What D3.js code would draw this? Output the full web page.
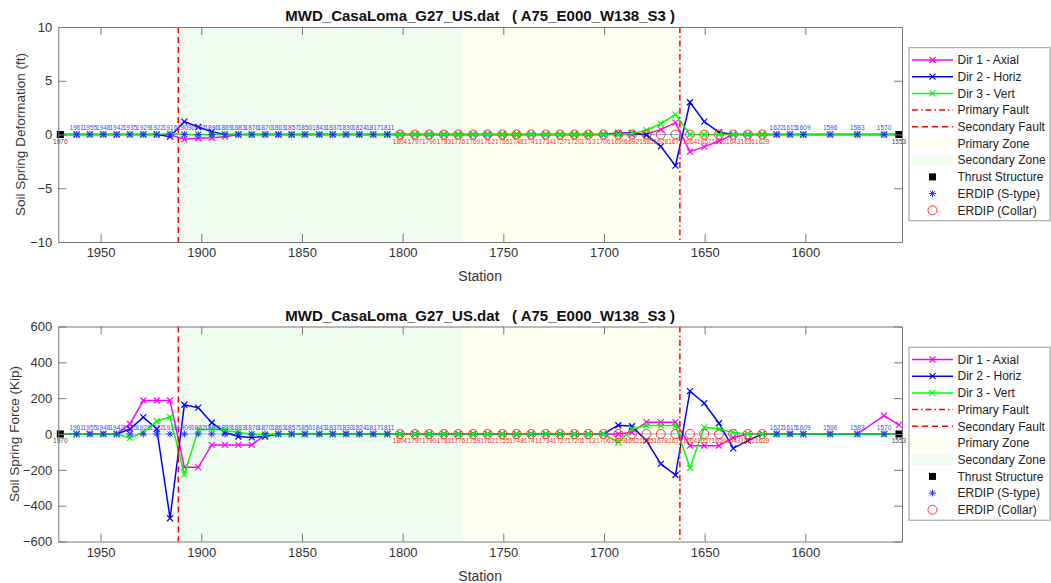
<!DOCTYPE html>
<html>
<head>
<meta charset="utf-8">
<script src="https://cdn.jsdelivr.net/npm/d3@7"></script>
<style>
  body { margin: 0; background: #fff; }
  svg text { font-family: "Liberation Sans", Arial, sans-serif; }
</style>
</head>
<body>
<svg id="chart" width="1051" height="583"></svg>
<script>
// ---- data ----
const xTicks = [1950, 1900, 1850, 1800, 1750, 1700, 1650, 1600];
const defTicks = [-10, -5, 0, 5, 10];
const forceTicks = [-600, -400, -200, 0, 200, 400, 600];

const thrustStations = [1970, 1553.5];
const thrustLabels = ["1970", "1553"];

const sTypeStations = [1961.9, 1955.3, 1948.7, 1942.0, 1935.4, 1928.8, 1922.1, 1915.5, 1908.4, 1901.5,
  1894.8, 1888.2, 1881.6, 1874.9, 1868.3, 1861.7, 1855.1, 1848.5, 1841.4, 1834.7, 1828.1, 1821.5,
  1814.6, 1807.6, 1614.2, 1607.6, 1601.0, 1587.7, 1574.2, 1560.9];
const sTypeLabels = ["1961", "1955", "1948", "1942", "1935", "1929", "1922", "1916", "1909", "1902",
  "1896", "1889", "1883", "1876", "1870", "1863", "1857", "1850", "1843", "1837", "1830", "1824",
  "1817", "1811", "1622", "1615", "1609", "1596", "1583", "1570"];

const collarStations = [1801.3, 1793.9, 1786.8, 1779.5, 1772.4, 1765.0, 1757.8, 1750.5, 1743.4, 1736.2,
  1728.9, 1721.8, 1714.7, 1707.8, 1700.3, 1692.9, 1686.1, 1678.9, 1671.8, 1664.5, 1657.3, 1650.2,
  1642.9, 1635.8, 1628.6, 1621.4];
const collarLabels = ["1804", "1797", "1790", "1783", "1776", "1769", "1762", "1755", "1748", "1741",
  "1734", "1727", "1720", "1713", "1706", "1699", "1692", "1685", "1678", "1671", "1664", "1657",
  "1650", "1643", "1636", "1629"];

const primaryFault = 1662.3;
const secondaryFault = 1911.4;
const primaryZone = [1770, 1662.3];
const secondaryZone = [1911.4, 1770];

// values per node, nodes ordered from station 1970 down to 1553 (58 nodes)
const defAxial = [0, 0, 0, 0, 0, 0, 0, 0, 0, -0.45,
  -0.35, -0.3, -0.2, 0, 0, 0, 0, 0, 0, 0,
  0, 0, 0, 0, 0, 0, 0, 0, 0, 0,
  0, 0, 0, 0, 0, 0, 0, 0, 0, 0,
  0, 0, 0.05, 0.45, 1.1, -1.6, -1.15, -0.6, 0, 0,
  0, 0, 0, 0, 0, 0, 0, 0];
const defHoriz = [0, 0, 0, 0, 0, 0, 0, 0, -0.2, 1.2,
  0.7, 0.25, 0, 0, 0, 0, 0, 0, 0, 0,
  0, 0, 0, 0, 0, 0, 0, 0, 0, 0,
  0, 0, 0, 0, 0, 0, 0, 0, 0, 0,
  0.15, 0.15, -0.05, -1.1, -2.9, 3.0, 1.2, 0.2, 0, 0,
  0, 0, 0, 0, 0, 0, 0, 0];
const defVert = [0, 0, 0, 0, 0, 0, 0, 0, 0.1, 0,
  0, 0, 0, 0, 0, 0, 0, 0, 0, 0,
  0, 0, 0, 0, 0, 0, 0, 0, 0, 0,
  0, 0, 0, 0, 0, 0, 0, 0, 0, 0,
  0.05, 0.1, 0.4, 1.0, 1.85, 0, 0, 0, 0, 0,
  0, 0, 0, 0, 0, 0, 0, 0];

const forceAxial = [0, 0, 0, 0, 0, 56, 187, 187, 187, -186,
  -186, -61, -61, -61, -61, -5, 0, 0, 0, 0,
  0, 0, 0, 0, 0, 0, 0, 0, 0, 0,
  0, 0, 0, 0, 0, 0, 0, 0, 0, 0,
  0, 10, 66, 66, 66, -65, -65, -65, -19, 0,
  0, 0, 0, 0, 0, 0, 103, 51];
const forceHoriz = [0, 0, 0, 0, 0, 28, 94, 28, -470, 163,
  147, 63, 10, -14, -19, -14, 0, 0, 0, 0,
  0, 0, 0, 0, 0, 0, 0, 0, 0, 0,
  0, 0, 0, 0, 0, 0, 0, 0, 0, 0,
  49, 43, -37, -167, -229, 239, 172, 60, -80, -37,
  0, 0, 0, 0, 0, 0, 0, 0];
const forceVert = [0, 0, 0, 0, 0, -22, 9, 71, 96, -225,
  23, 28, 19, 9, 0, -5, 0, 0, 0, 0,
  0, 0, 0, 0, 0, 0, 0, 0, 0, 0,
  0, 0, 0, 0, 0, 0, 0, 0, 0, 0,
  -46, 28, 47, 47, 47, -190, 37, 28, 9, 0,
  0, 0, 0, 0, 0, 0, 0, 0];

const titleText = "MWD_CasaLoma_G27_US.dat   ( A75_E000_W138_S3 )";

// ---- layout ----
const plotLeft = 58.3, plotRight = 902;
const colors = { axial: "#ff00ff", horiz: "#0000ff", vert: "#00ff00" };
const zoneFill = { primary: "#fffff2", secondary: "#f1fcf1" };

const nodeStations = thrustStations.concat(sTypeStations, collarStations).sort((a, b) => b - a);

const x = d3.scaleLinear().domain([1971, 1552]).range([plotLeft, plotRight]);

const svg = d3.select("#chart");

const xMark = "M-3,-3L3,3M-3,3L3,-3";
const starMark = "M-3.5,0H3.5M0,-3.5V3.5M-2.5,-2.5L2.5,2.5M-2.5,2.5L2.5,-2.5";

function drawPanel(opt) {
  let g = svg.append("g");
  let y = d3.scaleLinear().domain(opt.yDomain).range([opt.bottom, opt.top]);
  let y0 = y(0);

  // zones
  [[secondaryZone, zoneFill.secondary], [primaryZone, zoneFill.primary]].forEach(function (z) {
    g.append("rect")
      .attr("x", x(z[0][0]))
      .attr("y", opt.top)
      .attr("width", x(z[0][1]) - x(z[0][0]))
      .attr("height", opt.bottom - opt.top)
      .attr("fill", z[1]);
  });

  // pipe reference line
  g.append("line")
    .attr("x1", x(nodeStations[0])).attr("x2", x(nodeStations[nodeStations.length - 1]))
    .attr("y1", y0).attr("y2", y0)
    .style("stroke", "#8ab4ff").style("stroke-width", 1);

  // three spring directions
  let series = [[opt.series[0], colors.axial], [opt.series[1], colors.horiz], [opt.series[2], colors.vert]];
  let line = d3.line().x((d, i) => x(nodeStations[i])).y(d => y(d));
  series.forEach(function (s) {
    g.append("path")
      .datum(s[0])
      .attr("d", line)
      .style("fill", "none")
      .style("stroke", s[1])
      .style("stroke-width", 1.5);
    g.selectAll(null)
      .data(s[0])
      .enter()
      .append("path")
      .attr("transform", (d, i) => `translate(${x(nodeStations[i])},${y(d)})`)
      .attr("d", xMark)
      .style("stroke", s[1])
      .style("stroke-width", 1.2)
      .style("fill", "none");
  });

  // faults
  g.append("line")
    .attr("x1", x(secondaryFault)).attr("x2", x(secondaryFault))
    .attr("y1", opt.top).attr("y2", opt.bottom)
    .style("stroke", "#ff0000").style("stroke-width", 1.5)
    .style("stroke-dasharray", "6,4");
  g.append("line")
    .attr("x1", x(primaryFault)).attr("x2", x(primaryFault))
    .attr("y1", opt.top).attr("y2", opt.bottom)
    .style("stroke", "#ff0000").style("stroke-width", 1.5)
    .style("stroke-dasharray", "6,3,1.5,3");

  // ERDIP markers
  g.selectAll(null)
    .data(sTypeStations)
    .enter()
    .append("path")
    .attr("transform", d => `translate(${x(d)},${y0})`)
    .attr("d", starMark)
    .style("stroke", "#2a2aff")
    .style("stroke-width", 1)
    .style("fill", "none");

  g.selectAll(null)
    .data(collarStations)
    .enter()
    .append("circle")
    .attr("cx", d => x(d))
    .attr("cy", y0)
    .attr("r", 4.5)
    .style("stroke", "#ff3030")
    .style("stroke-width", 1)
    .style("fill", "none");

  g.selectAll(null)
    .data(thrustStations)
    .enter()
    .append("rect")
    .attr("x", d => x(d) - 3.5)
    .attr("y", y0 - 3.5)
    .attr("width", 7)
    .attr("height", 7)
    .style("fill", "#000");

  // station labels
  g.selectAll(null)
    .data(sTypeStations)
    .enter()
    .append("text")
    .attr("x", d => x(d))
    .attr("y", y0 - 4.5)
    .attr("text-anchor", "middle")
    .style("font-size", "6.5px")
    .style("fill", "#4646ff")
    .text((d, i) => sTypeLabels[i]);

  g.selectAll(null)
    .data(collarStations)
    .enter()
    .append("text")
    .attr("x", d => x(d))
    .attr("y", y0 + 9)
    .attr("text-anchor", "middle")
    .style("font-size", "6.5px")
    .style("fill", "#ff2a2a")
    .text((d, i) => collarLabels[i]);

  g.selectAll(null)
    .data(thrustStations)
    .enter()
    .append("text")
    .attr("x", d => x(d))
    .attr("y", y0 + 9)
    .attr("text-anchor", "middle")
    .style("font-size", "6.5px")
    .style("fill", "#444")
    .text((d, i) => thrustLabels[i]);

  // axes box with inward ticks on all four sides
  let axes = [
    [d3.axisBottom(x).tickValues(xTicks).tickFormat(d3.format("d")), `translate(0,${opt.bottom})`, true],
    [d3.axisTop(x).tickValues(xTicks), `translate(0,${opt.top})`, false],
    [d3.axisLeft(y).tickValues(opt.yTicks).tickFormat(d3.format("d")), `translate(${plotLeft},0)`, true],
    [d3.axisRight(y).tickValues(opt.yTicks), `translate(${plotRight},0)`, false]
  ];
  axes.forEach(function (a) {
    let axis = a[0].tickSizeInner(-8).tickSizeOuter(0).tickPadding(a[2] ? 6 : 0);
    if (!a[2]) axis.tickFormat("");
    let ag = g.append("g").attr("transform", a[1]).call(axis);
    ag.select(".domain").style("stroke", "#777");
    ag.selectAll(".tick line").style("stroke", "#777");
    ag.selectAll(".tick text")
      .style("font-size", "13px")
      .style("fill", "#333")
      .style("font-family", "'Liberation Sans', Arial, sans-serif");
  });

  // titles
  g.append("text")
    .attr("x", (plotLeft + plotRight) / 2)
    .attr("y", opt.top - 6)
    .attr("text-anchor", "middle")
    .style("font-size", "15px")
    .style("font-weight", "bold")
    .style("white-space", "pre")
    .style("fill", "#111")
    .text(titleText);

  g.append("text")
    .attr("x", (plotLeft + plotRight) / 2)
    .attr("y", opt.bottom + 39)
    .attr("text-anchor", "middle")
    .style("font-size", "14px")
    .style("fill", "#333")
    .text("Station");

  g.append("text")
    .attr("transform", `translate(${opt.ylabelX},${(opt.top + opt.bottom) / 2}) rotate(-90)`)
    .attr("text-anchor", "middle")
    .style("font-size", "13.5px")
    .style("fill", "#333")
    .text(opt.ylabel);

  drawLegend(g, opt.legendTop);
}

function drawLegend(g, top) {
  let items = [
    { name: "Dir 1 - Axial", type: "line", color: colors.axial },
    { name: "Dir 2 - Horiz", type: "line", color: colors.horiz },
    { name: "Dir 3 - Vert", type: "line", color: colors.vert },
    { name: "Primary Fault", type: "fault", dash: "6,3,1.5,3" },
    { name: "Secondary Fault", type: "fault", dash: "6,4" },
    { name: "Primary Zone", type: "zone", color: zoneFill.primary },
    { name: "Secondary Zone", type: "zone", color: zoneFill.secondary },
    { name: "Thrust Structure", type: "square" },
    { name: "ERDIP (S-type)", type: "star" },
    { name: "ERDIP (Collar)", type: "circle" }
  ];
  let lg = g.append("g");
  lg.append("rect")
    .attr("x", 909).attr("y", top)
    .attr("width", 141).attr("height", 173)
    .style("fill", "#fff").style("stroke", "#999").style("stroke-width", 1);

  items.forEach(function (it, i) {
    let cy = top + 12.3 + i * 16.7;
    let row = lg.append("g");
    if (it.type === "line" || it.type === "fault") {
      row.append("line")
        .attr("x1", 912).attr("x2", 953).attr("y1", cy).attr("y2", cy)
        .style("stroke", it.type === "line" ? it.color : "#ff0000")
        .style("stroke-width", 1.5)
        .style("stroke-dasharray", it.dash || null);
      if (it.type === "line") {
        row.append("path")
          .attr("transform", `translate(932.5,${cy})`)
          .attr("d", xMark)
          .style("stroke", it.color).style("stroke-width", 1.2);
      }
    } else if (it.type === "zone") {
      row.append("rect")
        .attr("x", 912).attr("y", cy - 5.5).attr("width", 41).attr("height", 11)
        .style("fill", it.color);
    } else if (it.type === "square") {
      row.append("rect")
        .attr("x", 929).attr("y", cy - 3.5).attr("width", 7).attr("height", 7)
        .style("fill", "#000");
    } else if (it.type === "star") {
      row.append("path")
        .attr("transform", `translate(932.5,${cy})`)
        .attr("d", starMark)
        .style("stroke", "#2a2aff").style("stroke-width", 1);
    } else {
      row.append("circle")
        .attr("cx", 932.5).attr("cy", cy).attr("r", 4.5)
        .style("stroke", "#ff3030").style("fill", "none");
    }
    row.append("text")
      .attr("x", 957.5).attr("y", cy)
      .attr("dy", "0.35em")
      .style("font-size", "12px")
      .style("fill", "#222")
      .text(it.name);
  });
}

drawPanel({
  top: 27, bottom: 242,
  yDomain: [-10, 10], yTicks: defTicks,
  series: [defAxial, defHoriz, defVert],
  ylabel: "Soil Spring Deformation (ft)", ylabelX: 25,
  legendTop: 47.7
});

drawPanel({
  top: 326.5, bottom: 541.5,
  yDomain: [-600, 600], yTicks: forceTicks,
  series: [forceAxial, forceHoriz, forceVert],
  ylabel: "Soil Spring Force (Kip)", ylabelX: 19,
  legendTop: 347.2
});
</script>
</body>
</html>
